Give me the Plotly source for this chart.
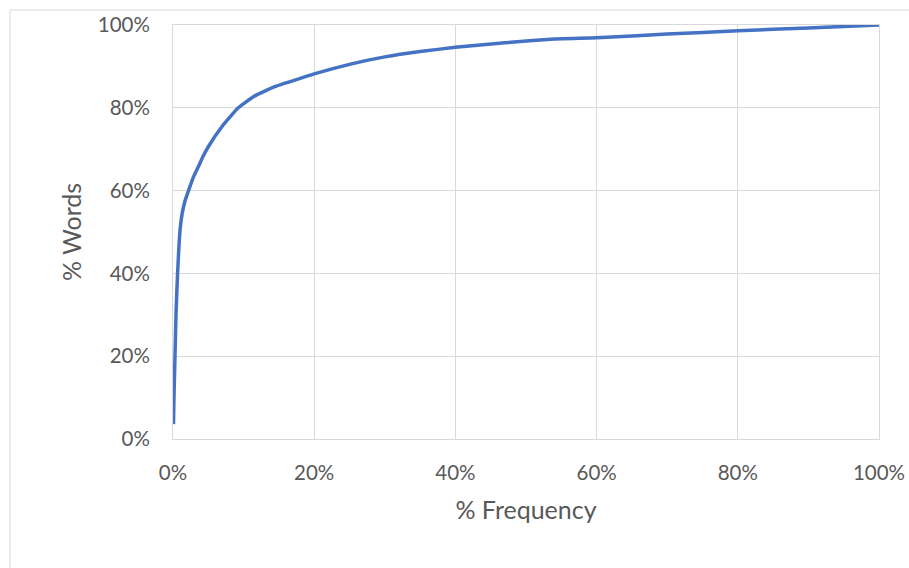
import plotly.graph_objects as go

# Data (percent values)
pct_frequency = [0.07, 0.14, 0.28, 0.43, 0.65, 1.0, 1.3, 1.7, 2.2, 2.9, 3.6, 4.3, 5.0,
                 7.0, 9.25, 11.5, 14.4, 18.0, 20.0, 25.0, 30.0, 35.0, 40.0, 47.0,
                 54.0, 60.0, 70.0, 80.0, 90.0, 100.0]
pct_words = [3.6, 10.2, 20.0, 30.4, 40.0, 50.5, 54.5, 57.5, 60.0, 63.3, 65.8, 68.4, 70.6,
             75.6, 80.0, 82.8, 85.1, 87.1, 88.2, 90.5, 92.3, 93.6, 94.6, 95.7,
             96.6, 96.9, 97.8, 98.6, 99.3, 100.0]
tick_vals = [0, 20, 40, 60, 80, 100]
tick_text = ["0%", "20%", "40%", "60%", "80%", "100%"]

W, H = 909, 568
L, R, T, B = 173, 30, 25, 129
pw, ph = W - L - R, H - T - B

grid = "#D9D9D9"
txt = "#595959"
font_family = "Lato, 'Open Sans', sans-serif"

fig = go.Figure()
fig.add_trace(go.Scatter(
    x=pct_frequency, y=pct_words, mode="lines",
    line=dict(color="#4472C4", width=3.5, shape="spline", smoothing=0.4),
    hoverinfo="skip", showlegend=False,
))

axis_common = dict(
    range=[0, 100], tickvals=tick_vals, ticktext=tick_text,
    showgrid=True, gridcolor=grid, gridwidth=1,
    showline=True, linecolor=grid, linewidth=1, mirror=True,
    zeroline=False, ticks="", fixedrange=True, automargin=False,
    tickfont=dict(family=font_family, size=20.5, color=txt),
)

fig.update_layout(
    template="none",
    width=W, height=H,
    margin=dict(l=L, r=R, t=T, b=B),
    paper_bgcolor="white", plot_bgcolor="white",
    xaxis=dict(**axis_common, ticklabelstandoff=15,
               title=dict(text="% Frequency", standoff=18,
                          font=dict(family=font_family, size=25, color=txt))),
    yaxis=dict(**axis_common, ticklabelstandoff=18,
               title=dict(text="% Words", standoff=9,
                          font=dict(family=font_family, size=25, color=txt))),
)

# chart border (top and left edges visible in the reference)
x0 = (10 - L) / pw
x1 = (W + 5 - L) / pw
y0 = 1 + (T - 10) / ph
y1 = -(H + 5 - T - ph) / ph
fig.add_shape(type="rect", xref="paper", yref="paper", x0=x0, x1=x1, y0=y1, y1=y0,
              line=dict(color=grid, width=1), fillcolor="rgba(0,0,0,0)", layer="below")

fig.write_html("out.html", config={"displayModeBar": False})
